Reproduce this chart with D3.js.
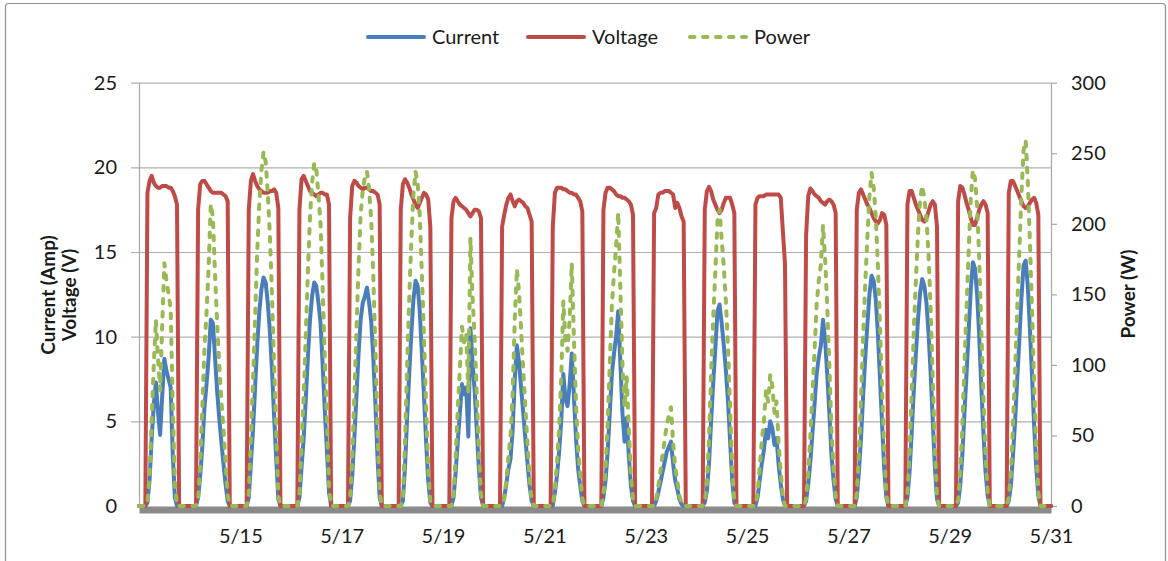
<!DOCTYPE html>
<html>
<head>
<meta charset="utf-8">
<script src="https://cdn.jsdelivr.net/npm/d3@7"></script>
<style>
  body { margin: 0; background: #ffffff; }
  svg text { font-family: Carlito, Calibri, Lato, "Open Sans", sans-serif; fill: #1a1a1a; }
</style>
</head>
<body>
<svg id="chart" width="1168" height="561"></svg>
<script>
// Daily logger readings, one row per day, sampled at the hours listed in `hours`.
const days = ["5/13","5/14","5/15","5/16","5/17","5/18","5/19","5/20","5/21",
              "5/22","5/23","5/24","5/25","5/26","5/27","5/28","5/29","5/30"];
const hours = [3,4,5,6,7,8,9,10,11,12,13,14,15,16,17,18,19];
const year = 2013;
const rangeStart = "5/13";
const rangeEnd = "5/31";
const midnightReading = 0;

// Current (A)
const current = [
  [0,0.2,1.5,4.0,6.0,7.3,5.5,4.2,6.5,8.7,8.0,7.5,7.0,3.0,0.5,0,0],
  [0,0.5,1.8,3.5,5.8,7.2,8.8,11.0,10.8,8.8,6.8,5.2,3.8,2.5,1.3,0.3,0],
  [0,0.5,2.5,4.5,7.0,9.5,11.5,12.8,13.5,13.2,12.0,10.3,8.0,5.3,2.8,0.4,0],
  [0,0.5,2.3,4.0,6.3,8.8,11.0,12.4,13.2,13.0,12.0,10.8,8.3,5.7,3.3,0.8,0],
  [0,0.3,1.8,4.0,6.5,9.0,11.0,12.0,12.4,12.9,12.0,10.9,8.7,6.0,2.8,0.5,0],
  [0,0,0.3,2.3,5.2,7.8,10.2,12.2,13.3,13.0,11.5,9.0,6.5,3.8,1.5,0.2,0],
  [0,0,0.5,2.0,3.8,5.5,7.2,6.6,7.0,4.1,10.5,8.5,6.8,4.5,2.2,0.5,0],
  [0,0,0.5,1.3,2.2,2.8,4.5,7.5,9.5,8.5,7.0,5.5,4.0,2.6,1.2,0.3,0],
  [0,0,0.8,1.8,3.2,5.0,7.8,6.3,5.9,7.2,9.0,6.5,4.0,2.2,1.2,0.3,0],
  [0,0.5,1.5,3.2,5.5,7.8,9.0,10.0,11.5,8.5,5.5,3.8,5.2,3.0,1.2,0.3,0],
  [0,0,0.3,0.8,1.4,2.0,2.6,3.2,3.5,3.8,2.5,1.5,1.0,0.4,0.1,0,0],
  [0,0.2,0.9,2.5,5.0,7.3,9.3,11.5,11.9,10.8,9.5,8.0,6.2,3.8,1.5,0.2,0],
  [0,0,0.5,1.5,2.5,3.3,4.5,4.0,5.0,4.6,3.6,4.0,2.4,1.3,0.4,0,0],
  [0,0.3,1.3,2.6,4.3,6.0,7.8,8.8,9.5,11.0,9.8,7.8,5.5,3.0,1.5,0.4,0],
  [0,0.5,2.0,4.0,6.5,8.7,10.7,12.5,13.6,13.3,12.2,10.2,7.5,4.8,2.2,0.5,0],
  [0,0.5,2.0,4.3,6.8,9.0,11.0,12.6,13.4,13.0,12.0,10.2,7.8,5.0,2.3,0.4,0],
  [0,0.2,1.2,3.0,5.5,7.8,10.3,12.8,14.4,14.0,12.5,10.0,7.0,4.3,2.0,0.6,0],
  [0,0.3,1.2,3.0,5.0,7.5,9.8,12.3,14.2,14.5,13.0,10.5,7.7,4.8,2.3,0.6,0]
];

// Voltage (V)
const voltage = [
  [0,18.5,19.2,19.5,19.1,18.9,18.8,18.8,18.9,18.9,18.9,18.8,18.8,18.6,18.3,17.8,0],
  [0,17.5,19.0,19.2,19.2,19.0,18.8,18.6,18.5,18.5,18.5,18.5,18.5,18.4,18.3,18.0,0],
  [0,17.5,19.2,19.6,19.2,18.9,18.7,18.6,18.5,18.5,18.5,18.6,18.6,18.7,18.5,17.6,0],
  [0,17.5,19.3,19.5,19.2,18.9,18.6,18.5,18.4,18.3,18.4,18.5,18.5,18.4,18.4,17.8,0],
  [0,17.0,18.9,19.2,19.1,18.9,18.8,18.7,18.8,18.8,18.7,18.6,18.6,18.5,18.4,17.8,0],
  [0,17.5,19.0,19.3,19.1,18.8,18.4,18.1,17.8,17.6,17.9,18.2,18.5,18.4,18.1,16.5,0],
  [0,17.0,18.0,18.2,18.0,17.8,17.7,17.6,17.5,17.3,17.1,17.3,17.5,17.5,17.4,17.0,0],
  [0,16.5,17.2,17.8,18.2,18.4,18.0,17.7,18.0,18.1,18.0,17.9,17.7,17.6,17.2,16.8,0],
  [0,16.5,18.5,18.8,18.8,18.8,18.7,18.7,18.6,18.5,18.5,18.4,18.4,18.2,18.0,17.4,0],
  [0,17.5,18.5,18.8,18.8,18.7,18.6,18.4,18.3,18.3,18.2,18.2,18.1,18.0,17.8,17.2,0],
  [0,17.3,17.6,18.4,18.5,18.5,18.6,18.6,18.6,18.5,18.4,17.6,17.9,17.6,17.1,16.8,0],
  [0,17.5,18.6,18.85,18.6,18.1,17.8,17.5,17.3,17.5,17.9,18.2,18.2,18.2,17.8,17.3,0],
  [0,17.8,18.2,18.3,18.3,18.3,18.4,18.4,18.4,18.4,18.4,18.4,18.4,18.2,16.2,14.3,0],
  [0,16.0,18.3,18.75,18.6,18.4,18.3,18.2,18.0,17.9,17.8,18.0,18.1,18.0,17.8,17.3,0],
  [0,17.5,18.5,18.7,18.4,18.1,17.8,17.6,17.3,17.0,16.8,16.7,16.9,17.3,17.2,16.6,0],
  [0,17.8,18.6,18.6,18.2,17.8,17.5,17.2,16.9,16.8,17.0,17.4,17.8,18.0,17.8,16.5,0],
  [0,18.0,18.9,18.8,18.4,17.9,17.5,17.0,16.6,16.6,17.0,17.5,17.8,18.0,17.8,17.3,0],
  [0,18.5,19.2,19.2,18.9,18.6,18.3,18.0,17.7,17.6,17.7,17.9,18.1,18.2,17.9,17.2,0]
];

// Power (W)
const power = [
  [0,2,22,60,100,132,105,82,128,172,160,150,140,70,15,0,0],
  [0,5,30,70,112,137,170,214,205,165,130,100,75,55,30,8,0],
  [0,9,48,88,134,180,215,238,251,244,222,192,149,99,52,7,0],
  [0,9,43,78,121,166,205,229,243,238,221,200,154,105,61,14,0],
  [0,5,34,77,124,170,207,224,233,237,224,203,162,111,52,9,0],
  [0,0,6,44,99,147,188,221,237,229,206,164,120,70,27,3,0],
  [0,0,8,35,68,98,127,116,122,80,190,148,119,79,38,8,0],
  [0,0,5,18,35,50,80,133,168,152,125,97,70,45,20,5,0],
  [0,0,12,30,55,90,145,118,110,133,172,120,72,40,22,5,0],
  [0,8,26,58,100,142,165,184,208,155,100,70,92,55,22,5,0],
  [0,0,5,14,25,36,47,58,64,70,45,27,18,7,2,0,0],
  [0,3,17,47,93,133,166,202,210,189,170,145,113,69,27,4,0],
  [0,0,9,27,46,60,82,74,93,85,66,74,44,24,7,0,0],
  [0,5,24,49,80,110,143,160,171,199,176,141,100,54,27,7,0],
  [0,9,37,75,120,157,190,220,236,226,205,170,127,83,38,8,0],
  [0,9,37,80,124,160,193,217,227,218,204,178,139,90,41,7,0],
  [0,4,23,56,101,140,180,218,238,232,212,175,125,77,36,10,0],
  [0,6,23,58,95,140,180,221,252,259,230,188,139,87,41,10,0]
];

const xTickLabels = ["5/15","5/17","5/19","5/21","5/23","5/25","5/27","5/29","5/31"];
const leftTicks = [0,5,10,15,20,25];
const rightTicks = [0,50,100,150,200,250,300];
const seriesNames = ["Current","Voltage","Power"];
const seriesColors = ["#4a7ebb","#be4b48","#98b954"];
const powerDash = "4.5,8.5";
const lineWidth = 4;

const parseDay = s => d3.timeParse("%Y/%m/%d")(year + "/" + s);
const atHour = (s, h) => d3.timeHour.offset(parseDay(s), h);

function buildSeries(rows) {
  const pts = [{ t: parseDay(rangeStart), v: midnightReading }];
  rows.forEach((row, i) => {
    row.forEach((v, j) => pts.push({ t: atHour(days[i], hours[j]), v }));
  });
  pts.push({ t: parseDay(rangeEnd), v: midnightReading });
  return pts;
}

const svg = d3.select("#chart");
const plot = { left: 139, right: 1051, top: 82.7, bottom: 506 };

const x = d3.scaleTime().domain([parseDay(rangeStart), parseDay(rangeEnd)]).range([plot.left, plot.right]);
const yL = d3.scaleLinear().domain([0, 25]).range([plot.bottom, plot.top]);
const yR = d3.scaleLinear().domain([0, 300]).range([plot.bottom, plot.top]);

// outer frame
svg.append("rect").attr("x", 5.5).attr("y", 3.5).attr("width", 1160).attr("height", 620)
  .attr("rx", 3).attr("fill", "#fff").attr("stroke", "#8f8f8f").attr("stroke-width", 1.2);

// horizontal gridlines (with the short outside tick on the left)
svg.append("g").attr("transform", `translate(${plot.left - 8},0)`)
  .call(d3.axisRight(yL).tickValues(leftTicks.filter(v => v > 0)).tickSize(plot.right - plot.left + 8).tickFormat(""))
  .call(g => g.select(".domain").remove())
  .call(g => g.selectAll("line").attr("stroke", "#b0b0b0").attr("stroke-width", 1.2));

// left axis
svg.append("g").attr("transform", `translate(${plot.left},0)`)
  .call(d3.axisLeft(yL).tickValues(leftTicks).tickSizeInner(0).tickSizeOuter(0).tickPadding(22))
  .call(g => g.select(".domain").attr("stroke", "#a6a6a6").attr("stroke-width", 1.2))
  .call(g => g.selectAll("text").attr("font-size", 20).style("font-family", "Lato, sans-serif"));

// right axis
svg.append("g").attr("transform", `translate(${plot.right},0)`)
  .call(d3.axisRight(yR).tickValues(rightTicks).tickSizeInner(6).tickSizeOuter(0).tickPadding(14))
  .call(g => g.select(".domain").attr("stroke", "#a6a6a6").attr("stroke-width", 1.2))
  .call(g => g.selectAll("line").attr("stroke", "#a6a6a6").attr("stroke-width", 1.2))
  .call(g => g.selectAll("text").attr("font-size", 20).style("font-family", "Lato, sans-serif"));

// date axis: heavy grey base line and labels
const xAxisY = plot.bottom + 3.5;
svg.append("g").attr("transform", `translate(0,${xAxisY})`)
  .call(d3.axisBottom(x).tickValues(xTickLabels.map(parseDay)).tickFormat(d3.timeFormat("%-m/%-d"))
        .tickSizeInner(0).tickSizeOuter(0))
  .call(g => g.select(".domain").attr("stroke", "#8a8a8a").attr("stroke-width", 7))
  .call(g => g.selectAll("text").attr("dy", null).attr("y", 543 - xAxisY)
        .attr("font-size", 20).style("font-family", "Lato, sans-serif"));

// series
const lineL = d3.line().x(d => x(d.t)).y(d => yL(d.v));
const lineR = d3.line().x(d => x(d.t)).y(d => yR(d.v));

svg.append("path").datum(buildSeries(current)).attr("d", lineL)
  .attr("fill", "none").attr("stroke", seriesColors[0]).attr("stroke-width", lineWidth)
  .attr("stroke-linejoin", "round").attr("stroke-linecap", "round");
svg.append("path").datum(buildSeries(voltage)).attr("d", lineL)
  .attr("fill", "none").attr("stroke", seriesColors[1]).attr("stroke-width", lineWidth)
  .attr("stroke-linejoin", "round").attr("stroke-linecap", "round");
svg.append("path").datum(buildSeries(power)).attr("d", lineR)
  .attr("fill", "none").attr("stroke", seriesColors[2]).attr("stroke-width", lineWidth)
  .attr("stroke-dasharray", powerDash).attr("stroke-linejoin", "round").attr("stroke-linecap", "round");

// axis titles
svg.append("text").attr("transform", "translate(48,295) rotate(-90)")
  .attr("text-anchor", "middle").attr("dy", "0.35em")
  .attr("font-size", 19).attr("font-weight", "bold").style("font-family", "Lato, sans-serif")
  .text("Current (Amp)");
svg.append("text").attr("transform", "translate(69,295) rotate(-90)")
  .attr("text-anchor", "middle").attr("dy", "0.35em")
  .attr("font-size", 19).attr("font-weight", "bold").style("font-family", "Lato, sans-serif")
  .text("Voltage (V)");
svg.append("text").attr("transform", "translate(1128,294) rotate(-90)")
  .attr("text-anchor", "middle").attr("dy", "0.35em")
  .attr("font-size", 19).attr("font-weight", "bold").style("font-family", "Lato, sans-serif")
  .text("Power (W)");

// legend
const legendX = [368, 528, 690];
const legend = svg.append("g").attr("transform", "translate(0,37)");
seriesNames.forEach((name, i) => {
  const item = legend.append("g").attr("transform", `translate(${legendX[i]},0)`);
  item.append("line").attr("x1", 0).attr("x2", 56).attr("y1", 0).attr("y2", 0)
    .attr("stroke", seriesColors[i]).attr("stroke-width", lineWidth).attr("stroke-linecap", "round")
    .attr("stroke-dasharray", i === 2 ? powerDash : null);
  item.append("text").attr("x", 64).attr("dy", "0.35em")
    .attr("font-size", 20).style("font-family", "Lato, sans-serif").text(name);
});
</script>
</body>
</html>
